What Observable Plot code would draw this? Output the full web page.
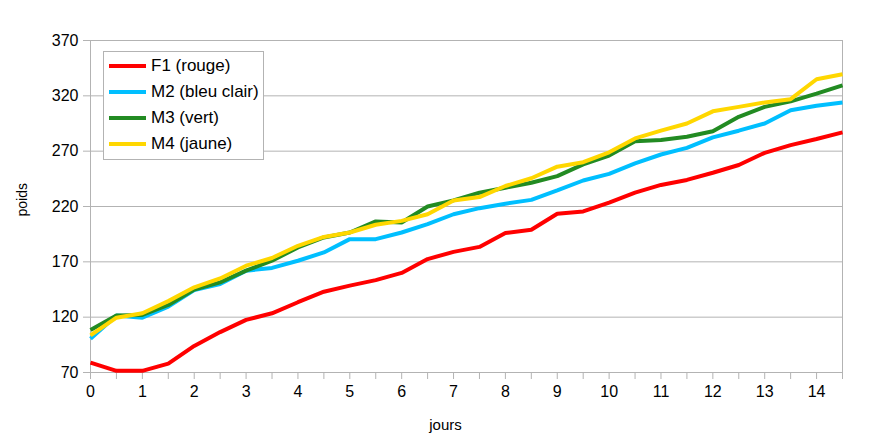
<!DOCTYPE html>
<html>
<head>
<meta charset="utf-8">
<script src="https://cdn.jsdelivr.net/npm/d3@7"></script>
<script src="https://cdn.jsdelivr.net/npm/@observablehq/plot@0.6"></script>
<style>
  html, body { margin: 0; padding: 0; background: #fff; }
  #wrap { position: relative; width: 895px; height: 445px; font-family: "Liberation Sans", Arial, sans-serif; }
  #legend { position: absolute; left: 103px; top: 51px; width: 161px; height: 109px; border: 1px solid #b3b3b3; background: #fff; box-sizing: border-box; }
  .item { position: absolute; left: 5px; height: 20px; display: flex; align-items: center; font-size: 17px; color: #000; white-space: nowrap; }
  .sw { width: 37px; height: 4px; margin-right: 5px; }
</style>
</head>
<body>
<div id="wrap"></div>
<script>
const jours = [0,0.5,1,1.5,2,2.5,3,3.5,4,4.5,5,5.5,6,6.5,7,7.5,8,8.5,9,9.5,10,10.5,11,11.5,12,12.5,13,13.5,14,14.5];
const seriesNames = ["F1 (rouge)", "M2 (bleu clair)", "M3 (vert)", "M4 (jaune)"];
const seriesColors = ["#ff0000", "#00bfff", "#228b22", "#ffd700"];
const F1 = [79,71.5,71.5,78,94,106.5,117.5,123.5,133.5,143,148.5,153.5,160,172.5,179,183.5,196,199,213.5,215.5,223.5,232.5,239.5,244,250.5,257.5,268.5,275.5,281,287];
const M2 = [100.5,121.5,119.5,129.5,144.5,150,162,164.5,171,178.5,190.5,190.5,196.5,204,213,218.5,222.5,226,234.5,243.5,249.5,259,267,273,282.5,288.5,295,307,311,314];
const M3 = [108.5,121.5,122,131,145,151.5,162,171,183,192,196.5,206.5,205.5,220,225.5,232.5,237,241.5,247.5,258,266,279,280,283,288,301,310,315,322,329.5];
const M4 = [103.5,119.5,123.5,134.5,147,155,166.5,173.5,184.5,192.5,196.5,203.5,207,213,225.5,228.5,238.5,245.5,256,260,269,281.5,288.5,295,306,310,314,317,335,339.5];
const yTicks = [70,120,170,220,270,320,370];
const xTickMarks = jours;

const values = [F1, M2, M3, M4];
const data = [];
values.forEach((arr, s) => arr.forEach((v, i) => data.push({jour: jours[i], poids: v, serie: seriesNames[s]})));

const grid = "#b3b3b3";
const chart = Plot.plot({
  width: 895,
  height: 445,
  marginLeft: 90,
  marginRight: 53,
  marginTop: 40,
  marginBottom: 73,
  style: { fontFamily: "Liberation Sans, Arial, sans-serif", fontSize: "16px", color: "#000", background: "#fff" },
  x: { domain: [0, 14.5] },
  y: { domain: [70, 370] },
  color: { domain: seriesNames, range: seriesColors },
  marks: [
    Plot.ruleY(yTicks, { stroke: grid, strokeWidth: 1 }),
    Plot.ruleX([0, 14.5], { stroke: grid, strokeWidth: 1 }),
    Plot.axisY({ ticks: yTicks, tickSize: 7, tickPadding: 5, stroke: grid, strokeOpacity: 1, label: null, fontSize: 16 }),
    Plot.axisX({ ticks: xTickMarks, tickSize: 7, tickPadding: 6, stroke: grid, strokeOpacity: 1, label: null, tickFormat: d => Number.isInteger(d) ? String(d) : "", fontSize: 16 }),
    Plot.lineY(data, { x: "jour", y: "poids", stroke: "serie", strokeWidth: 4, strokeLinejoin: "miter", strokeLinecap: "butt" }),
    Plot.text(["poids"], { frameAnchor: "left", dx: -68, dy: 10, rotate: -90, fontSize: 14, fill: "#000" }),
    Plot.text(["jours"], { frameAnchor: "bottom", dx: -21, dy: 57, fontSize: 15, fill: "#000" })
  ]
});
const wrap = document.getElementById("wrap");
wrap.appendChild(chart);

const legend = document.createElement("div");
legend.id = "legend";
seriesNames.forEach((n, i) => {
  const it = document.createElement("div");
  it.className = "item";
  it.style.top = (4 + i * 26) + "px";
  const sw = document.createElement("span");
  sw.className = "sw";
  sw.style.background = seriesColors[i];
  const t = document.createElement("span");
  t.textContent = n;
  it.appendChild(sw);
  it.appendChild(t);
  legend.appendChild(it);
});
wrap.appendChild(legend);
</script>
</body>
</html>
